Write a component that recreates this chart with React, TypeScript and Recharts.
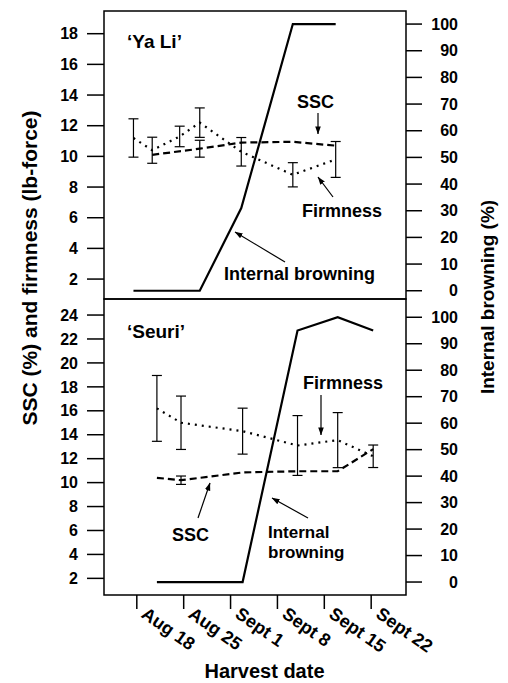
import React from 'react';
import { ComposedChart, Line, XAxis, YAxis, ErrorBar, ReferenceArea } from 'recharts';

const FONT = '"Liberation Sans", Arial, Helvetica, sans-serif';

// Harvest date axis: day number counted from July 31 (Aug 18 = 18, Sept 1 = 32)
const xTicks = [18, 25, 32, 39, 46, 53];
const xTickLabels = ['Aug 18', 'Aug 25', 'Sept 1', 'Sept 8', 'Sept 15', 'Sept 22'];
const xDomain = [13.1, 58.2];

const yaLiLeftTicks = [2, 4, 6, 8, 10, 12, 14, 16, 18];
const seuriLeftTicks = [2, 4, 6, 8, 10, 12, 14, 16, 18, 20, 22, 24];
const browningTicks = [0, 10, 20, 30, 40, 50, 60, 70, 80, 90, 100];
const yaLiLeftDomain = [0.7, 19.48];
const yaLiRightDomain = [-3.1, 104.9];
const seuriLeftDomain = [0.61, 25.34];
const seuriRightDomain = [-4.9, 106.9];

// 'Ya Li'
const yaLiFirmDays = [17.5, 20.3, 24.4, 27.4, 33.6, 41.3, 47.7];
const yaLiFirmness = [11.2, 10.4, 11.3, 12.2, 10.3, 8.8, 9.8];
const yaLiFirmErr = [1.25, 0.85, 0.67, 0.96, 0.93, 0.79, 1.17];
const yaLiSscDays = [20.3, 27.4, 33.6, 41.3, 47.7];
const yaLiSsc = [10.1, 10.5, 10.9, 10.95, 10.7];
const yaLiSscErr = [0, 0.55, 0, 0, 0];
const yaLiBrownDays = [17.5, 27.4, 33.6, 41.3, 47.7];
const yaLiBrowning = [0, 0, 31, 100, 100];

// 'Seuri'
const seuriFirmDays = [21.0, 24.6, 33.8, 42.0, 48.0, 53.3];
const seuriFirmness = [16.2, 15.0, 14.3, 13.1, 13.55, 12.2];
const seuriFirmErr = [2.75, 2.23, 1.92, 2.5, 2.3, 0.94];
const seuriSscDays = [21.0, 24.6, 33.8, 42.0, 48.0, 53.3];
const seuriSsc = [10.4, 10.2, 10.85, 10.95, 10.95, 12.8];
const seuriSscErr = [0, 0.35, 0, 0, 0, 0];
const seuriBrownDays = [21.0, 33.8, 42.0, 48.0, 53.3];
const seuriBrowning = [0, 0, 95, 100, 95];

const mk = (days: number[], vals: number[], errs?: number[]) =>
  days.map((d, i) => ({ d, v: vals[i], err: errs ? errs[i] : 0 }));

const RightTick = (props: any) => (
  <text x={props.x + 36} y={props.y} dy="0.355em" textAnchor="end" fill="#000"
    fontFamily={FONT} fontWeight="bold" fontSize={16}>{props.payload.value}</text>
);

const LeftTick = (props: any) => (
  <text x={props.x} y={props.y} dy="0.355em" textAnchor="end" fill="#000"
    fontFamily={FONT} fontWeight="bold" fontSize={16}>{props.payload.value}</text>
);

const XTick = (props: any) => {
  const idx = xTicks.indexOf(props.payload.value);
  const label = idx >= 0 ? xTickLabels[idx] : '';
  const ox = props.x + 11;
  const oy = props.y - 3;
  return (
    <text x={ox} y={oy} dy="0.72em" textAnchor="start" fill="#000" fontFamily={FONT}
      fontWeight="bold" fontSize={18} transform={`rotate(35 ${ox} ${oy})`}>{label}</text>
  );
};

type PanelProps = {
  height: number; marginTop: number; marginBottom: number; showX: boolean;
  leftDomain: number[]; leftTicks: number[]; rightDomain: number[];
  firm: any[]; ssc: any[]; ib: any[];
};

function Panel(p: PanelProps) {
  return (
    <div style={{ position: 'absolute', left: 0, top: 0 }}>
      <ComposedChart width={508} height={p.height}
        margin={{ top: p.marginTop, right: 0, bottom: p.marginBottom, left: 0 }}>
        <XAxis xAxisId="x" type="number" dataKey="d" domain={xDomain} ticks={xTicks}
          allowDataOverflow hide={!p.showX} axisLine={false} tickLine={{ stroke: '#000', strokeWidth: 1.5 }}
          tickSize={14} tickMargin={0} height={88} interval={0} tick={<XTick />} />
        <YAxis yAxisId="l" orientation="left" width={104} type="number" domain={p.leftDomain}
          ticks={p.leftTicks} allowDataOverflow interval={0} axisLine={false}
          tickLine={{ stroke: '#000', strokeWidth: 1.5 }} tickSize={17} tickMargin={9} tick={<LeftTick />} />
        <YAxis yAxisId="r" orientation="right" width={102} type="number" domain={p.rightDomain}
          ticks={browningTicks} allowDataOverflow interval={0} axisLine={false}
          tickLine={{ stroke: '#000', strokeWidth: 1.5 }} tickSize={16} tickMargin={0} tick={<RightTick />} />
        <ReferenceArea xAxisId="x" yAxisId="l" x1={xDomain[0]} x2={xDomain[1]}
          y1={p.leftDomain[0]} y2={p.leftDomain[1]} fill="none" fillOpacity={0}
          stroke="#000" strokeWidth={1.5} ifOverflow="visible" />
        <Line xAxisId="x" yAxisId="r" data={p.ib} dataKey="v" type="linear" stroke="#000"
          strokeWidth={2.2} dot={false} activeDot={false} isAnimationActive={false} />
        <Line xAxisId="x" yAxisId="l" data={p.ssc} dataKey="v" type="linear" stroke="#000"
          strokeWidth={2.2} strokeDasharray="7 4" dot={false} activeDot={false} isAnimationActive={false}>
          <ErrorBar dataKey="err" direction="y" width={5} stroke="#000" strokeWidth={1.2} />
        </Line>
        <Line xAxisId="x" yAxisId="l" data={p.firm} dataKey="v" type="linear" stroke="#000"
          strokeWidth={2.2} strokeDasharray="2 5" dot={false} activeDot={false} isAnimationActive={false}>
          <ErrorBar dataKey="err" direction="y" width={5} stroke="#000" strokeWidth={1.2} />
        </Line>
      </ComposedChart>
    </div>
  );
}

const txt = { fontFamily: FONT, fontWeight: 'bold' as const, fill: '#000' };

export default function App() {
  return (
    <div style={{ position: 'absolute', left: 0, top: 0, width: 508, height: 683, background: '#fff' }}>
      <Panel height={300} marginTop={11} marginBottom={1} showX={false}
        leftDomain={yaLiLeftDomain} leftTicks={yaLiLeftTicks} rightDomain={yaLiRightDomain}
        firm={mk(yaLiFirmDays, yaLiFirmness, yaLiFirmErr)} ssc={mk(yaLiSscDays, yaLiSsc, yaLiSscErr)}
        ib={mk(yaLiBrownDays, yaLiBrowning)} />
      <Panel height={683} marginTop={299} marginBottom={0} showX={true}
        leftDomain={seuriLeftDomain} leftTicks={seuriLeftTicks} rightDomain={seuriRightDomain}
        firm={mk(seuriFirmDays, seuriFirmness, seuriFirmErr)} ssc={mk(seuriSscDays, seuriSsc, seuriSscErr)}
        ib={mk(seuriBrownDays, seuriBrowning)} />
      <svg width={508} height={683} style={{ position: 'absolute', left: 0, top: 0, pointerEvents: 'none' }}>
        <defs>
          <marker id="ah" viewBox="0 0 10 10" refX="9.5" refY="5" markerWidth="8" markerHeight="8"
            orient="auto" markerUnits="userSpaceOnUse">
            <path d="M0,1.5 L10,5 L0,8.5 z" fill="#000" />
          </marker>
        </defs>
        {/* axis titles */}
        <text {...txt} fontSize={21} textAnchor="middle" dy="0.35em" transform="translate(30,268) rotate(-90)">
          SSC (%) and firmness (lb-force)
        </text>
        <text {...txt} fontSize={19} textAnchor="middle" dy="0.35em" transform="translate(487,297) rotate(-90)">
          Internal browning (%)
        </text>
        <text {...txt} fontSize={20} textAnchor="middle" x={264.5} y={678}>Harvest date</text>

        {/* Ya Li annotations */}
        <text {...txt} fontSize={19} x={127} y={48}>‘Ya Li’</text>
        <text {...txt} fontSize={18} x={297} y={108}>SSC</text>
        <line x1={318} y1={113} x2={318} y2={134} stroke="#000" strokeWidth={1.2} markerEnd="url(#ah)" />
        <text {...txt} fontSize={18} x={302} y={217}>Firmness</text>
        <line x1={333} y1={197} x2={318} y2={177} stroke="#000" strokeWidth={1.2} markerEnd="url(#ah)" />
        <text {...txt} fontSize={18} x={224} y={280}>Internal browning</text>
        <line x1={285} y1={262} x2={235} y2={232} stroke="#000" strokeWidth={1.2} markerEnd="url(#ah)" />

        {/* Seuri annotations */}
        <text {...txt} fontSize={19} x={127} y={338}>‘Seuri’</text>
        <text {...txt} fontSize={18} x={303} y={389}>Firmness</text>
        <line x1={321} y1={395} x2={321} y2={435} stroke="#000" strokeWidth={1.2} markerEnd="url(#ah)" />
        <text {...txt} fontSize={18} x={172} y={541}>SSC</text>
        <line x1={198} y1={518} x2={210} y2={483} stroke="#000" strokeWidth={1.2} markerEnd="url(#ah)" />
        <text {...txt} fontSize={17} x={268} y={538}>Internal</text>
        <text {...txt} fontSize={17} x={268} y={558}>browning</text>
        <line x1={308} y1={518} x2={272} y2={498} stroke="#000" strokeWidth={1.2} markerEnd="url(#ah)" />
      </svg>
    </div>
  );
}
